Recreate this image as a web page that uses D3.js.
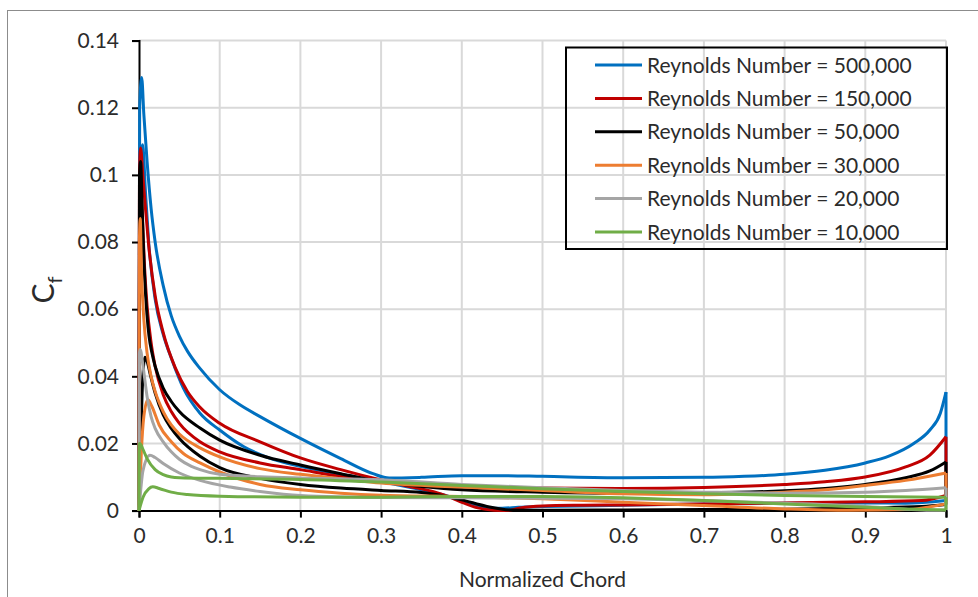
<!DOCTYPE html>
<html>
<head>
<meta charset="utf-8">
<script src="https://cdn.jsdelivr.net/npm/d3@7"></script>
<style>
  html, body { margin: 0; padding: 0; background: #fff; }
  svg { display: block; }
  text { font-family: Lato, "Liberation Sans", sans-serif; fill: #2b2b2b; }
</style>
</head>
<body>
<svg id="chart" width="978" height="597"></svg>
<script>
// Skin-friction coefficient along the chord, two surfaces per Reynolds number
const reLabels = ["500,000", "150,000", "50,000", "30,000", "20,000", "10,000"];
const reColors = ["#0070C0", "#C00000", "#000000", "#ED7D31", "#A5A5A5", "#70AD47"];
const xTicks = [0, 0.1, 0.2, 0.3, 0.4, 0.5, 0.6, 0.7, 0.8, 0.9, 1];
const yTicks = [0, 0.02, 0.04, 0.06, 0.08, 0.1, 0.12, 0.14];

// Re = 500,000
const re500kA = [[0,0],[0.0008,0.12],[0.0033,0.129],[0.006,0.118],[0.01,0.104],[0.015,0.09],[0.02,0.08],[0.03,0.067],[0.04,0.058],[0.05,0.052],[0.06,0.0475],[0.075,0.0425],[0.1,0.036],[0.125,0.0315],[0.15,0.028],[0.2,0.0215],[0.25,0.0155],[0.29,0.011],[0.31,0.0097],[0.35,0.0099],[0.4,0.0104],[0.45,0.0104],[0.5,0.0102],[0.6,0.0098],[0.7,0.0099],[0.75,0.0102],[0.8,0.0108],[0.85,0.012],[0.9,0.0142],[0.93,0.0163],[0.96,0.02],[0.98,0.024],[0.993,0.029],[1,0.0353]];
const re500kB = [[0,0],[0.0008,0.1],[0.0045,0.109],[0.008,0.095],[0.012,0.08],[0.02,0.063],[0.03,0.0525],[0.041,0.0448],[0.055,0.0365],[0.0756,0.029],[0.1,0.024],[0.13,0.019],[0.16,0.0158],[0.2,0.0132],[0.25,0.0108],[0.3,0.0086],[0.35,0.0062],[0.38,0.0045],[0.41,0.0022],[0.43,0.0008],[0.45,0.0007],[0.47,0.001],[0.5,0.0012],[0.6,0.0016],[0.7,0.002],[0.8,0.0022],[0.9,0.0023],[0.95,0.0022],[1,0.003]];

// Re = 150,000
const re150kA = [[0,0],[0.0006,0.095],[0.002,0.1],[0.004,0.088],[0.007,0.072],[0.01,0.061],[0.015,0.05],[0.02,0.043],[0.03,0.0345],[0.04,0.0295],[0.05,0.026],[0.0756,0.0205],[0.1,0.0175],[0.15,0.0142],[0.2,0.0122],[0.25,0.0102],[0.3,0.0088],[0.35,0.0078],[0.4,0.0072],[0.5,0.0067],[0.6,0.0066],[0.7,0.0069],[0.8,0.0078],[0.85,0.0086],[0.9,0.01],[0.95,0.013],[0.98,0.0165],[1,0.022]];
const re150kB = [[0,0],[0.0006,0.1],[0.002,0.108],[0.005,0.099],[0.008,0.09],[0.012,0.079],[0.02,0.064],[0.03,0.053],[0.045,0.0425],[0.06,0.0355],[0.0756,0.0308],[0.1,0.026],[0.15,0.0205],[0.2,0.0157],[0.25,0.0122],[0.3,0.0091],[0.335,0.0072],[0.365,0.0056],[0.385,0.004],[0.402,0.0023],[0.42,0.0008],[0.44,0.0001],[0.456,0],[0.472,0.0008],[0.5,0.0014],[0.55,0.0016],[0.6,0.0017],[0.7,0.002],[0.8,0.0023],[0.9,0.0026],[0.97,0.003],[1,0.0045]];

// Re = 50,000
const re50kA = [[0,0],[0.0006,0.1],[0.002,0.104],[0.004,0.09],[0.006,0.075],[0.008,0.065],[0.01,0.058],[0.0124,0.052],[0.016,0.047],[0.02,0.043],[0.03,0.0365],[0.04,0.0325],[0.05,0.0295],[0.0756,0.0246],[0.1,0.021],[0.15,0.0165],[0.2,0.0136],[0.25,0.011],[0.3,0.0086],[0.35,0.0072],[0.4,0.0062],[0.5,0.0055],[0.6,0.0052],[0.7,0.0053],[0.8,0.0059],[0.85,0.0066],[0.9,0.0078],[0.95,0.0098],[0.98,0.0118],[1,0.0145]];
const re50kB = [[0,0],[0.002,0.02],[0.004,0.036],[0.0074,0.0457],[0.01,0.0445],[0.014,0.0405],[0.02,0.035],[0.03,0.0285],[0.04,0.0245],[0.05,0.0215],[0.0756,0.0162],[0.1,0.0128],[0.15,0.0096],[0.2,0.0078],[0.25,0.0067],[0.3,0.006],[0.35,0.0054],[0.4,0.0032],[0.43,0.0013],[0.46,0.0002],[0.5,0.0001],[0.6,0.0002],[0.7,0.0003],[0.8,0.0004],[0.9,0.0008],[0.97,0.0012],[1,0.0018]];

// Re = 30,000
const re30kA = [[0,0],[0.0005,0.08],[0.0015,0.087],[0.003,0.072],[0.006,0.057],[0.01,0.047],[0.015,0.04],[0.02,0.0355],[0.03,0.0295],[0.04,0.0255],[0.05,0.0228],[0.0756,0.0187],[0.1,0.016],[0.15,0.0125],[0.2,0.0108],[0.25,0.0095],[0.3,0.0082],[0.4,0.007],[0.5,0.006],[0.6,0.005],[0.7,0.0047],[0.8,0.0055],[0.85,0.0062],[0.9,0.0075],[0.95,0.009],[1,0.0112]];
const re30kB = [[0,0],[0.003,0.018],[0.006,0.028],[0.011,0.033],[0.016,0.031],[0.025,0.0255],[0.04,0.0205],[0.055,0.017],[0.0756,0.0142],[0.1,0.0115],[0.15,0.0078],[0.2,0.0062],[0.25,0.0052],[0.3,0.0046],[0.4,0.0042],[0.5,0.0035],[0.6,0.0025],[0.7,0.0015],[0.8,0.0005],[0.88,0.0001],[0.95,0.0003],[1,0.002]];

// Re = 20,000
const re20kA = [[0,0],[0.0005,0.047],[0.0015,0.048],[0.005,0.043],[0.01,0.034],[0.015,0.028],[0.02,0.0245],[0.03,0.0205],[0.04,0.0175],[0.05,0.0153],[0.065,0.0132],[0.0756,0.0122],[0.1,0.0108],[0.15,0.0101],[0.2,0.0097],[0.3,0.0092],[0.4,0.0078],[0.5,0.0068],[0.6,0.006],[0.7,0.0055],[0.8,0.0052],[0.9,0.0055],[0.95,0.006],[1,0.0068]];
const re20kB = [[0,0],[0.005,0.012],[0.0136,0.0165],[0.02,0.0158],[0.03,0.014],[0.05,0.0112],[0.0756,0.009],[0.113,0.007],[0.15,0.0057],[0.2,0.0045],[0.3,0.0039],[0.4,0.0038],[0.5,0.0037],[0.6,0.0035],[0.7,0.003],[0.8,0.0022],[0.9,0.0012],[0.95,0.0004],[0.98,0.0001],[1,0.0002]];

// Re = 10,000
const re10kA = [[0,0],[0.0005,0.02],[0.002,0.0198],[0.005,0.0182],[0.01,0.0155],[0.02,0.0122],[0.03,0.0107],[0.04,0.01],[0.05,0.0098],[0.1,0.0096],[0.2,0.0093],[0.3,0.0085],[0.4,0.0075],[0.5,0.0065],[0.6,0.0057],[0.7,0.005],[0.8,0.0045],[0.9,0.0042],[1,0.004]];
const re10kB = [[0,0],[0.005,0.004],[0.012,0.0065],[0.017,0.0071],[0.025,0.0066],[0.04,0.0055],[0.06,0.0048],[0.1,0.0043],[0.2,0.004],[0.3,0.004],[0.4,0.0042],[0.5,0.0042],[0.6,0.0038],[0.7,0.003],[0.8,0.002],[0.9,0.001],[0.95,0.0005],[1,0.0002]];

const seriesCurves = [
  [re500kA, re500kB],
  [re150kA, re150kB],
  [re50kA, re50kB],
  [re30kA, re30kB],
  [re20kA, re20kB],
  [re10kA, re10kB]
];

const svg = d3.select("#chart");
const plot = { left: 139, right: 946, top: 40.6, bottom: 510.6 };

const x = d3.scaleLinear().domain([0, 1]).range([plot.left, plot.right]);
const y = d3.scaleLinear().domain([0, 0.14]).range([plot.bottom, plot.top]);

// outer frame
svg.append("rect")
  .attr("x", 7.5).attr("y", 10.5)
  .attr("width", 1000).attr("height", 1000)
  .attr("fill", "none").attr("stroke", "#8c8c8c").attr("stroke-width", 1);

// gridlines
const grid = svg.append("g");
grid.selectAll("line.v").data(xTicks.filter(d => d > 0)).join("line")
  .attr("x1", d => x(d)).attr("x2", d => x(d))
  .attr("y1", plot.top).attr("y2", plot.bottom)
  .attr("stroke", "#d9d9d9").attr("stroke-width", 2);
grid.selectAll("line.h").data(yTicks.filter(d => d > 0)).join("line")
  .attr("x1", plot.left).attr("x2", plot.right)
  .attr("y1", d => y(d)).attr("y2", d => y(d))
  .attr("stroke", "#d9d9d9").attr("stroke-width", 2);

// axes
const xAxis = svg.append("g")
  .attr("transform", `translate(0,${plot.bottom})`)
  .call(d3.axisBottom(x).tickValues(xTicks).tickSize(7).tickPadding(10).tickFormat(d3.format("~g")));
const yAxis = svg.append("g")
  .attr("transform", `translate(${plot.left},0)`)
  .call(d3.axisLeft(y).tickValues(yTicks).tickSize(7).tickPadding(13).tickFormat(d3.format("~g")));
[xAxis, yAxis].forEach(g => {
  g.select(".domain").attr("stroke", "#000").attr("stroke-width", 2);
  g.selectAll(".tick line").attr("stroke", "#000").attr("stroke-width", 2);
  g.selectAll(".tick text").attr("font-size", 21).attr("fill", "#2b2b2b")
    .style("font-family", "Lato, 'Liberation Sans', sans-serif");
});

// curves: each Reynolds number is one closed trace, both surfaces joined
// at the leading edge (x = 0) and at the trailing edge (x = 1)
const line = d3.line().x(d => x(d[0])).y(d => y(d[1])).curve(d3.curveMonotoneX);
const edge = d3.line().x(d => x(d[0])).y(d => y(d[1]));
const curveLayer = svg.append("g");
seriesCurves.forEach((pair, i) => {
  const g = curveLayer.append("g")
    .attr("fill", "none")
    .attr("stroke", reColors[i])
    .attr("stroke-width", 3)
    .attr("stroke-linejoin", "round");
  pair.forEach(pts => g.append("path").attr("d", line(pts)));
  g.append("path").attr("d", edge([pair[0][pair[0].length - 1], pair[1][pair[1].length - 1]]));
});

// axis titles
svg.append("text")
  .attr("x", (plot.left + plot.right) / 2).attr("y", 587)
  .attr("text-anchor", "middle").attr("font-size", 21)
  .text("Normalized Chord");

const yTitle = svg.append("text")
  .attr("transform", "translate(54,290) rotate(-90)")
  .attr("text-anchor", "middle").attr("font-size", 30);
yTitle.append("tspan").text("C");
yTitle.append("tspan").attr("font-size", 20).attr("dy", 8).text("f");

// legend
const legend = svg.append("g");
legend.append("rect")
  .attr("x", 566).attr("y", 47.5).attr("width", 381).attr("height", 201.5)
  .attr("fill", "none").attr("stroke", "#000").attr("stroke-width", 2);
reLabels.forEach((lab, i) => {
  const cy = 65 + i * 33.4;
  legend.append("line")
    .attr("x1", 595).attr("x2", 642).attr("y1", cy).attr("y2", cy)
    .attr("stroke", reColors[i]).attr("stroke-width", 3);
  legend.append("text")
    .attr("x", 647).attr("y", cy).attr("dy", "0.36em")
    .attr("font-size", 21)
    .text("Reynolds Number = " + lab);
});
</script>
</body>
</html>
